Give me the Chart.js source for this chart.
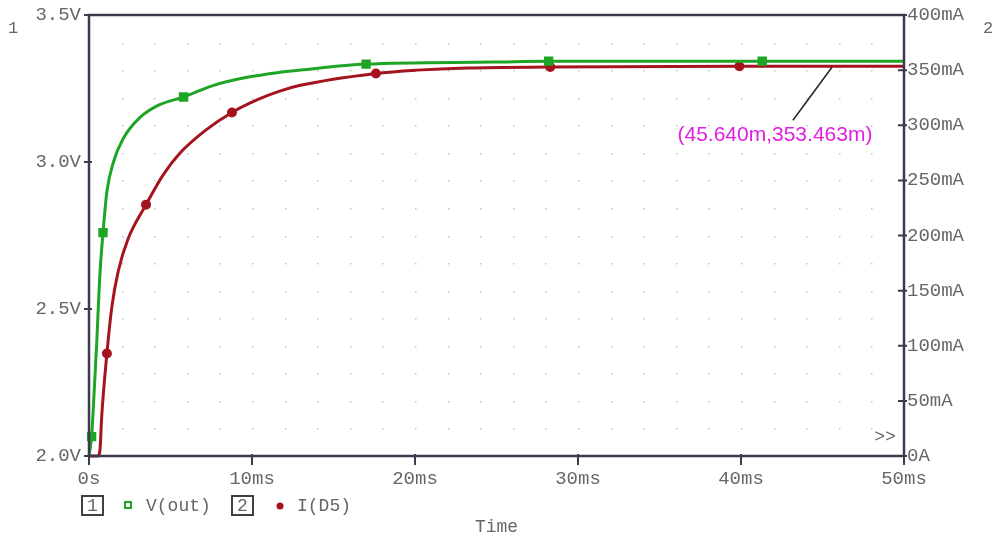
<!DOCTYPE html>
<html>
<head>
<meta charset="utf-8">
<script src="https://cdn.jsdelivr.net/npm/chart.js@4"></script>
<style>
    body { margin: 0; background: #fff; }
    #wrap { width: 994px; height: 540px; }
</style>
</head>
<body>
<div id="wrap"><canvas id="probeChart" width="994" height="540"></canvas></div>
<script>
// V(out) trace, time in ms, volts
const timeV = [0, 0.08, 0.16, 0.3, 0.47, 0.65, 0.86, 1.1, 1.5, 2.1, 3.1, 4.3, 5.8, 7.6, 9.7, 11.7, 13.0, 17.0, 24.8, 28.2, 41.3, 50];
const voltsOut = [2.0, 2.03, 2.066, 2.2, 2.38, 2.6, 2.76, 2.9, 3.0, 3.08, 3.15, 3.194, 3.221, 3.26, 3.288, 3.305, 3.313, 3.333, 3.34, 3.343, 3.343, 3.343];
const markerTimesV = [0.16, 0.86, 5.8, 17.0, 28.2, 41.3];

// I(D5) trace, time in ms, milliamps
const timeI = [0, 0.55, 0.67, 0.78, 1.1, 1.4, 1.8, 2.4, 3.5, 4.55, 5.6, 7.2, 8.77, 10.3, 11.7, 12.9, 17.6, 20.1, 23.2, 28.3, 39.9, 50];
const currentD5 = [0, 0, 5, 36, 93, 135, 168, 197, 228, 255, 275, 296, 311.6, 323, 331, 336, 347, 350, 352, 352.8, 353.5, 353.5];
const markerTimesI = [1.1, 3.5, 8.77, 17.6, 28.3, 39.9];

// axis tick labels
const xTickLabels = ['0s', '10ms', '20ms', '30ms', '40ms', '50ms'];
const leftTickLabels = ['2.0V', '2.5V', '3.0V', '3.5V'];
const rightTickLabels = ['0A', '50mA', '100mA', '150mA', '200mA', '250mA', '300mA', '350mA', '400mA'];

// cursor readout
const cursorTime = 45.640;
const cursorCurrent = 353.463;

const GREEN = '#1fa526';
const RED = '#a5141e';
const AXIS = '#3b3b4d';
const TEXT = '#666666';
const MONO = "'Liberation Mono', 'DejaVu Sans Mono', monospace";

Chart.defaults.font.family = MONO;
Chart.defaults.font.size = 19;
Chart.defaults.color = TEXT;

const toPoints = (xs, ys) => xs.map((x, i) => ({ x, y: ys[i] }));

// dotted grid, frame, ticks and the extra probe texts
const probeDecor = {
    id: 'probeDecor',
    beforeDatasetsDraw(chart) {
        const { ctx, scales } = chart;
        ctx.save();
        ctx.fillStyle = '#c4c4c4';
        for (let t = 2; t < 50; t += 2) {
            const px = Math.round(scales.x.getPixelForValue(t));
            for (let mA = 25; mA < 400; mA += 25) {
                const py = Math.round(scales.y2.getPixelForValue(mA));
                ctx.fillRect(px, py, 1.5, 1.5);
            }
        }
        ctx.restore();
    },
    afterDatasetsDraw(chart) {
        const { ctx, chartArea: a, scales } = chart;
        ctx.save();
        // frame
        ctx.strokeStyle = AXIS;
        ctx.lineWidth = 2.5;
        ctx.beginPath();
        ctx.moveTo(a.left, a.bottom);
        ctx.lineTo(a.left, a.top);
        ctx.lineTo(a.right, a.top);
        ctx.lineTo(a.right, a.bottom);
        ctx.lineTo(a.left, a.bottom);
        ctx.stroke();

        // tick marks
        ctx.lineWidth = 2;
        ctx.beginPath();
        scales.x.ticks.forEach(t => {
            const px = scales.x.getPixelForValue(t.value);
            ctx.moveTo(px, a.bottom - 2);
            ctx.lineTo(px, a.bottom + 9);
        });
        scales.y.ticks.forEach(t => {
            const py = scales.y.getPixelForValue(t.value);
            ctx.moveTo(a.left - 5, py);
            ctx.lineTo(a.left + 3, py);
        });
        scales.y2.ticks.forEach(t => {
            const py = scales.y2.getPixelForValue(t.value);
            ctx.moveTo(a.right - 6, py);
            ctx.lineTo(a.right + 3, py);
        });
        ctx.stroke();

        // cursor annotation
        const cx = scales.x.getPixelForValue(cursorTime);
        const cy = scales.y2.getPixelForValue(cursorCurrent);
        ctx.strokeStyle = '#222';
        ctx.lineWidth = 1.5;
        ctx.beginPath();
        ctx.moveTo(cx - 1, cy + 1);
        ctx.lineTo(cx - 40, cy + 54);
        ctx.stroke();
        ctx.fillStyle = '#e01fe0';
        ctx.font = "21px 'Liberation Sans', Arial, sans-serif";
        ctx.textAlign = 'center';
        ctx.textBaseline = 'middle';
        ctx.fillText('(' + cursorTime.toFixed(3) + 'm,' + cursorCurrent.toFixed(3) + 'm)', cx - 58, cy + 69);

        // axis ids, overflow mark, x title
        ctx.fillStyle = TEXT;
        ctx.font = '17px ' + MONO;
        ctx.fillText('1', 13, 28);
        ctx.fillText('2', 988, 28);
        ctx.font = '18px ' + MONO;
        ctx.fillText('>>', a.right - 19, a.bottom - 19);
        ctx.fillText('Time', (a.left + a.right) / 2, 527);

        // legend
        const ly = 505;
        const box = (x, label) => {
            ctx.strokeStyle = '#404040';
            ctx.lineWidth = 2;
            ctx.strokeRect(x, ly - 9, 21, 19);
            ctx.fillStyle = TEXT;
            ctx.fillText(label, x + 10.5, ly + 1);
        };
        box(82, '1');
        ctx.strokeStyle = GREEN;
        ctx.lineWidth = 2;
        ctx.strokeRect(125, ly - 3, 6, 6);
        ctx.fillStyle = TEXT;
        ctx.textAlign = 'left';
        ctx.fillText('V(out)', 146, ly + 1);
        ctx.textAlign = 'center';
        box(232, '2');
        ctx.fillStyle = RED;
        ctx.beginPath();
        ctx.arc(280, ly + 1, 3.5, 0, Math.PI * 2);
        ctx.fill();
        ctx.fillStyle = TEXT;
        ctx.textAlign = 'left';
        ctx.fillText('I(D5)', 297, ly + 1);
        ctx.restore();
    }
};

new Chart(document.getElementById('probeChart').getContext('2d'), {
    type: 'line',
    data: {
        datasets: [{
            label: 'V(out)',
            data: toPoints(timeV, voltsOut),
            yAxisID: 'y',
            borderColor: GREEN,
            backgroundColor: GREEN,
            borderWidth: 3,
            pointStyle: 'rect',
            pointRadius: ctx => markerTimesV.includes(ctx.raw.x) ? 4.5 : 0,
            cubicInterpolationMode: 'monotone',
            clip: 3
        }, {
            label: 'I(D5)',
            data: toPoints(timeI, currentD5),
            yAxisID: 'y2',
            borderColor: RED,
            backgroundColor: RED,
            borderWidth: 3,
            pointStyle: 'circle',
            pointRadius: ctx => markerTimesI.includes(ctx.raw.x) ? 3.5 : 0,
            cubicInterpolationMode: 'monotone',
            clip: 3
        }]
    },
    options: {
        responsive: false,
        animation: false,
        devicePixelRatio: 1,
        layout: { padding: { top: 15 } },
        plugins: {
            legend: { display: false },
            tooltip: { enabled: false }
        },
        scales: {
            x: {
                type: 'linear',
                min: 0,
                max: 50,
                grid: { display: false },
                border: { display: false },
                ticks: {
                    stepSize: 10,
                    padding: 4,
                    maxRotation: 0,
                    callback: v => xTickLabels[Math.round(v / 10)]
                },
                afterFit: s => { s.height = 84; }
            },
            y: {
                position: 'left',
                min: 2,
                max: 3.5,
                grid: { display: false },
                border: { display: false },
                ticks: {
                    stepSize: 0.5,
                    padding: 0,
                    callback: v => leftTickLabels[Math.round((v - 2) / 0.5)]
                },
                afterFit: s => { s.width = 89; }
            },
            y2: {
                position: 'right',
                min: 0,
                max: 400,
                grid: { display: false },
                border: { display: false },
                ticks: {
                    stepSize: 50,
                    padding: -5,
                    callback: v => rightTickLabels[Math.round(v / 50)]
                },
                afterFit: s => { s.width = 90; }
            }
        }
    },
    plugins: [probeDecor]
});
</script>
</body>
</html>
